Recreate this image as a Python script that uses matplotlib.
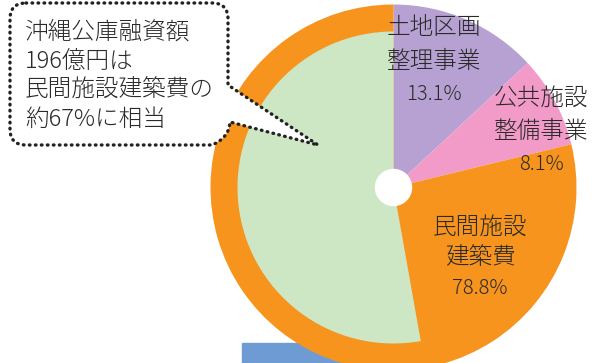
import matplotlib.pyplot as plt
from matplotlib.path import Path
from matplotlib.patches import PathPatch, Circle, Rectangle

plt.rcParams['font.family'] = ['Noto Sans CJK JP', 'DejaVu Sans']

# Data
categories = ["土地区画\n整理事業", "公共施設\n整備事業", "民間施設\n建築費"]
shares = [13.1, 8.1, 78.8]
colors = ["#b6a1d2", "#f29bc9", "#f7941e"]
loan_ratio = 67  # 沖縄公庫融資額 as % of 民間施設建築費
callout = ["沖縄公庫融資額", "196億円は", "民間施設建築費の", "約67%に相当"]

W, H = 592, 363
fig = plt.figure(figsize=(W / 100, H / 100), dpi=100)
ax = fig.add_axes([0, 0, 1, 1])


def fy(y):
    # image row -> data y
    return H - y


cx, cy = 393.5, fy(187.5)
R = 183

# blue bar peeking out below the pie
ax.add_patch(Rectangle((242, fy(363)), 180, 20, color="#6f9bd5", zorder=0))

ax.pie(shares, colors=colors, startangle=90, counterclock=False,
       radius=R, center=(cx, cy), wedgeprops=dict(linewidth=0))

# inner green part = loan share of private construction
green = shares[2] * loan_ratio / 100
wedges, _ = ax.pie([green, 100 - green], colors=["#cde7c4", "none"],
                   startangle=90, counterclock=True, radius=156,
                   center=(cx, cy), wedgeprops=dict(linewidth=0))
wedges[1].set_visible(False)

ax.add_patch(Circle((cx, cy), 18, color="white", zorder=3))

# slice labels
label_pos = [(434, 27), (541, 98), (480, 227)]
steps = [34, 33, 31]
for name, v, (x, y), st in zip(categories, shares, label_pos, steps):
    lines = name.split("\n") + [f"{v}%"]
    for i, t in enumerate(lines):
        fs = 17 if i < 2 else 14.5
        ax.text(x, fy(y + i * st), t, ha="center", va="center",
                fontsize=fs, color="#2a2a2a", fontweight="light", zorder=5)

# callout bubble with tail
x0, x1, y0, y1, r = 10, 228, 3, 145, 16
tip = (318, 145)
pts = [
    (x0 + r, y0), (x1 - r, y0), (x1, y0), (x1, y0 + r),
    (x1, 85), tip, (230, 122),
    (229, 138), (x1 - r, y1),
    (x0 + r, y1), (x0, y1), (x0, y1 - r),
    (x0, y0 + r), (x0, y0), (x0 + r, y0),
]
codes = [Path.MOVETO, Path.LINETO, Path.CURVE3, Path.CURVE3,
         Path.LINETO, Path.LINETO, Path.LINETO,
         Path.CURVE3, Path.CURVE3,
         Path.LINETO, Path.CURVE3, Path.CURVE3,
         Path.LINETO, Path.CURVE3, Path.CURVE3]
verts = [(x, fy(y)) for x, y in pts]
ax.add_patch(PathPatch(Path(verts, codes), facecolor="white",
                       edgecolor="#222222", linewidth=2.4,
                       linestyle=(0, (0.2, 1.6)), capstyle="round",
                       zorder=6))

for i, t in enumerate(callout):
    ax.text(25, fy(32 + i * 29), t, ha="left", va="center",
            fontsize=17, color="#2a2a2a", fontweight="light", zorder=7)

ax.set_xlim(0, W)
ax.set_ylim(0, H)
ax.set_aspect("auto")
ax.axis("off")

fig.savefig("out.png", dpi=100)
